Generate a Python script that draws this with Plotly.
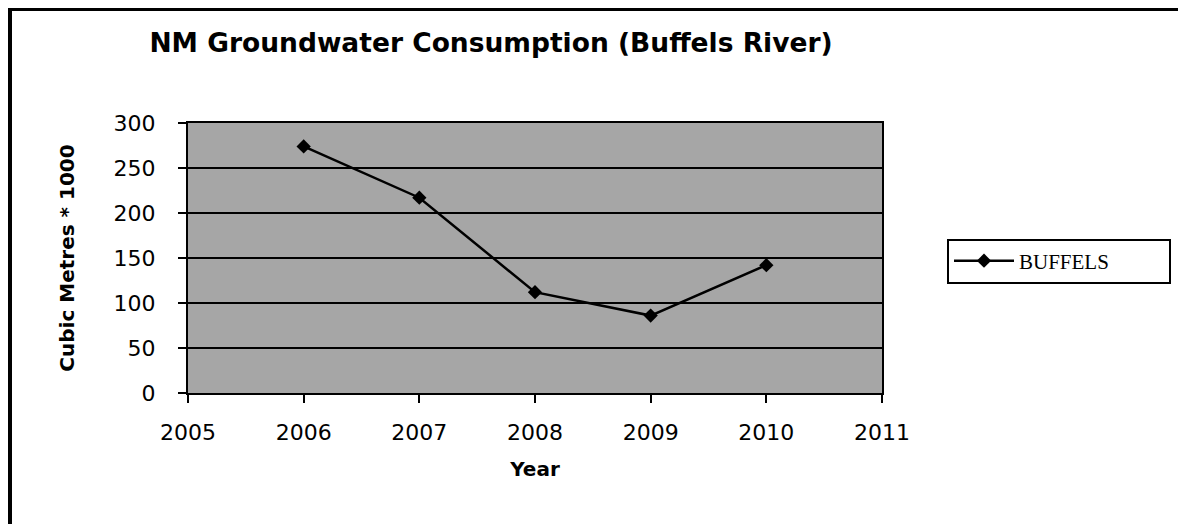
import plotly.graph_objects as go

years = [2006, 2007, 2008, 2009, 2010]
consumption = [274, 217, 112, 86, 142]
series_name = "BUFFELS"
x_ticks = [2005, 2006, 2007, 2008, 2009, 2010, 2011]
y_ticks = [0, 50, 100, 150, 200, 250, 300]

OFF = 8  # browser body margin
W, H = 1186 - OFF, 524 - OFF
L, T = 188 - OFF, 123 - OFF
PW, PH = 694, 270
R, B = W - L - PW, H - T - PH

def px_x(v): return (v - OFF - L) / PW
def px_y(v): return (T + PH - (v - OFF)) / PH

fig = go.Figure()
fig.add_trace(go.Scatter(
    x=years, y=consumption, name=series_name, mode="lines+markers",
    line=dict(color="black", width=2.5),
    marker=dict(symbol="diamond", size=11, color="black"),
))

fig.update_layout(
    width=W, height=H,
    margin=dict(l=L, r=R, t=T, b=B, autoexpand=False),
    paper_bgcolor="white",
    plot_bgcolor="#a6a6a6",
    font=dict(family="DejaVu Sans", color="black"),
    title=dict(text="<b>NM Groundwater Consumption (Buffels River)</b>",
               font=dict(size=26.5, family="DejaVu Sans", color="black"),
               x=(491 - OFF) / W, xanchor="center", y=1 - (43 - OFF) / H, yanchor="middle",
               xref="container", yref="container"),
    xaxis=dict(range=[2005, 2011], tickvals=x_ticks,
               showgrid=False, zeroline=False, ticks="outside", ticklen=8,
               tickcolor="black", tickwidth=1.5, showline=True, linecolor="black", linewidth=2,
               mirror=True, tickfont=dict(size=22), ticklabelstandoff=11,
               title=dict(text="<b>Year</b>", font=dict(size=20), standoff=18)),
    yaxis=dict(range=[0, 300], tickvals=y_ticks,
               showgrid=True, gridcolor="black", gridwidth=2, zeroline=False,
               ticks="outside", ticklen=8, tickcolor="black", tickwidth=1.5,
               showline=True, linecolor="black", linewidth=2, mirror=True,
               tickfont=dict(size=22), ticklabelstandoff=18,
               title=dict(text="<b>Cubic Metres * 1000</b>", font=dict(size=20), standoff=34)),
    legend=dict(x=px_x(947), y=px_y(261), xanchor="left", yanchor="middle",
                orientation="h",
                bordercolor="black", borderwidth=2, bgcolor="white",
                font=dict(family="Liberation Serif", size=21),
                entrywidth=145, entrywidthmode="pixels", itemwidth=60),
    showlegend=True,
    shapes=[
        dict(type="line", xref="paper", yref="paper",
             x0=px_x(8), x1=px_x(1186), y0=px_y(9.5), y1=px_y(9.5),
             line=dict(color="black", width=3)),
        dict(type="line", xref="paper", yref="paper",
             x0=px_x(10), x1=px_x(10), y0=px_y(8), y1=px_y(524),
             line=dict(color="black", width=4)),
    ],
)

fig.write_html("out.html")
